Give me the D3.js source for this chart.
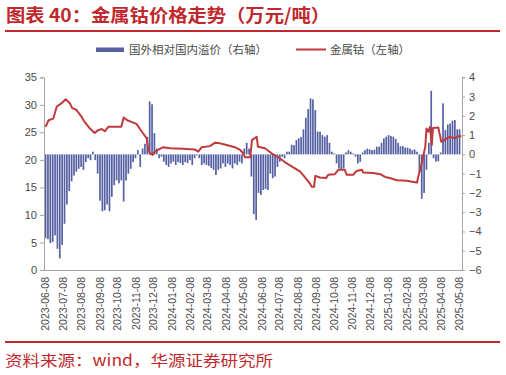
<!DOCTYPE html>
<html><head><meta charset="utf-8">
<script src="https://cdn.jsdelivr.net/npm/d3@7"></script>
<style>body{margin:0;background:#fff;}svg{display:block;}</style>
</head><body><svg id="c" width="506" height="375"></svg>
<script>
// ---------- data ----------
const titleText = "图表 40：金属钴价格走势（万元/吨）";
const sourceText = "资料来源：wind，华源证券研究所";
const seriesNames = ["国外相对国内溢价（右轴）", "金属钴（左轴）"];

const xTickLabels = ["2023-06-08","2023-07-08","2023-08-08","2023-09-08","2023-10-08","2023-11-08",
  "2023-12-08","2024-01-08","2024-02-08","2024-03-08","2024-04-08","2024-05-08","2024-06-08",
  "2024-07-08","2024-08-08","2024-09-08","2024-10-08","2024-11-08","2024-12-08","2025-01-08",
  "2025-02-08","2025-03-08","2025-04-08","2025-05-08"];
const leftTicks = [0,5,10,15,20,25,30,35];
const rightTicks = [-6,-5,-4,-3,-2,-1,0,1,2,3,4];

// premium (right axis), one value every 4 days starting 2023-06-09
const premiumStart = "2023-06-09";
const premiumStepDays = 4;
const premiumValues = [
 -4.35,-4.4,-4.6,-4.55,-4.2,-4.9,-5.4,-4.7,-3.6,-2.6,
 -1.9,-1.4,-1.1,-0.9,-0.75,-0.65,-0.8,-0.4,-0.2,-0.3,
 0.14,-0.3,-1.0,-2.4,-2.95,-2.9,-2.6,-2.95,-2.2,-1.6,
 -1.35,-1.5,-1.35,-2.45,-1.35,-1.0,-0.75,-0.4,-0.2,0.22,
 -0.65,0.3,0.55,0.9,2.75,2.6,1.1,0.3,-0.2,-0.12,
 -0.38,-0.55,-0.65,-0.47,-0.38,-0.55,-0.4,-0.45,-0.55,-0.4,
 -0.45,-0.3,-0.55,-0.2,-0.05,-0.2,-0.55,-0.47,-0.55,-0.6,
 -0.7,-0.8,-1.07,-0.8,-0.73,-0.47,-0.65,-0.47,-0.55,-0.73,
 -0.47,-0.55,-0.38,-0.47,0.3,0.6,0.3,-1.15,-3.1,-3.4,
 -2.0,-2.1,-1.85,-1.8,-1.85,-1.0,-1.24,-1.15,-0.65,-0.38,
 -0.12,-0.2,0.14,0.14,0.5,0.48,0.74,0.83,0.9,1.3,
 1.9,2.35,2.9,2.85,2.3,1.18,1.18,1.0,0.92,1.0,
 0.6,0.14,0.05,-0.47,-0.73,-0.8,-0.73,0.1,0.22,0.14,
 0.05,-0.12,-0.47,-0.38,0.1,0.22,0.3,0.26,0.22,0.25,
 0.4,0.4,0.6,0.83,0.92,1.0,0.95,0.92,0.8,0.6,
 0.42,0.43,0.35,0.35,0.3,0.22,0.26,0.14,-0.9,-2.3,
 -2.0,-0.8,0.6,3.3,-0.2,-0.38,-0.35,0.1,2.65,1.26,
 1.55,1.6,1.75,1.78,1.3,1.3
];

// cobalt price (left axis)
const cobaltDates = [
 "2023-06-09","2023-06-14","2023-06-22","2023-06-28","2023-07-06","2023-07-13","2023-07-20","2023-07-24",
 "2023-07-31","2023-08-09","2023-08-14","2023-08-23","2023-08-31","2023-09-06","2023-09-12","2023-09-17",
 "2023-09-23","2023-10-01","2023-10-15","2023-10-19","2023-10-25","2023-11-01","2023-11-10","2023-11-15",
 "2023-11-21","2023-11-27","2023-11-29","2023-12-02","2023-12-07","2023-12-11","2023-12-16","2023-12-25",
 "2024-01-05","2024-01-27","2024-02-16","2024-02-22","2024-02-28","2024-03-13","2024-03-21","2024-03-30",
 "2024-04-10","2024-04-24","2024-05-03","2024-05-08","2024-05-11","2024-05-20","2024-05-23","2024-05-31",
 "2024-06-02","2024-06-14","2024-06-25","2024-07-09","2024-07-20","2024-07-31","2024-08-12","2024-08-20",
 "2024-08-29","2024-09-01","2024-09-05","2024-09-07","2024-09-15","2024-09-25","2024-09-29","2024-10-10",
 "2024-10-16","2024-10-27","2024-10-30","2024-11-10","2024-11-16","2024-11-25","2024-11-27","2024-12-14",
 "2024-12-26","2025-01-03","2025-01-11","2025-01-23","2025-02-09","2025-02-20","2025-02-26","2025-02-28",
 "2025-03-06","2025-03-12","2025-03-14","2025-03-17","2025-03-20","2025-03-23","2025-03-25","2025-04-03",
 "2025-04-08","2025-04-12","2025-04-17","2025-04-22","2025-05-01","2025-05-07","2025-05-12"
];
const cobaltValues = [
 26.0,27.2,27.5,29.7,30.3,31.0,30.3,29.4,
 29.1,27.8,26.9,25.7,24.9,25.4,25.6,25.2,
 26.0,26.0,26.0,27.7,27.2,26.9,26.5,25.7,
 24.8,23.9,22.4,21.2,20.9,21.5,21.8,22.3,
 22.1,22.0,21.9,21.5,22.3,22.5,23.1,23.0,
 22.7,22.3,21.8,21.2,20.5,20.5,23.6,24.2,
 22.4,22.1,21.2,20.3,19.4,18.7,17.9,16.9,
 15.7,15.1,15.1,17.1,16.8,16.7,17.3,17.4,
 18.2,18.2,17.3,17.3,18.0,18.2,17.7,17.6,
 17.4,16.9,16.7,16.3,16.2,16.0,15.9,16.9,
 19.4,22.4,25.7,25.1,26.0,22.7,25.8,25.9,
 23.3,23.5,23.9,24.2,23.9,24.3,24.3
];

// ---------- drawing ----------
const parse = d3.utcParse("%Y-%m-%d");
const svg = d3.select("#c");
const red = "#C0282D", barColor = "#5561A3", lineColor = "#C0393B", axisColor = "#A6A6A6", txt = "#4a4a4a";
const cjk = "'Noto Sans CJK SC','Noto Sans',sans-serif";
const latin = "'Liberation Sans',Arial,sans-serif";

const x = d3.scaleUtc().domain([parse("2023-06-08"), parse("2025-05-08")]).range([45, 459]);
const yL = d3.scaleLinear().domain([0, 35]).range([270, 77.3]);
const yR = d3.scaleLinear().domain([-6, 4]).range([270, 77.3]);

// title
svg.append("text").attr("x", 6).attr("y", 22).attr("fill", red)
  .attr("font-family", cjk).attr("font-size", 18).attr("font-weight", "bold")
  .attr("textLength", 324).attr("lengthAdjust", "spacingAndGlyphs").text(titleText);
svg.append("rect").attr("x", 5).attr("y", 30).attr("width", 495).attr("height", 2).attr("fill", red);

// legend
svg.append("rect").attr("x", 96).attr("y", 47.5).attr("width", 28).attr("height", 4.5).attr("fill", barColor);
svg.append("text").attr("x", 129).attr("y", 54).attr("fill", txt).attr("font-family", cjk)
  .attr("font-size", 11.5).attr("textLength", 138).attr("lengthAdjust", "spacingAndGlyphs").text(seriesNames[0]);
svg.append("line").attr("x1", 296).attr("x2", 326).attr("y1", 49.5).attr("y2", 49.5)
  .attr("stroke", lineColor).attr("stroke-width", 2);
svg.append("text").attr("x", 330).attr("y", 54).attr("fill", txt).attr("font-family", cjk)
  .attr("font-size", 11.5).attr("textLength", 80).attr("lengthAdjust", "spacingAndGlyphs").text(seriesNames[1]);

// bars
const premiumData = premiumValues.map((v, i) => ({
  date: d3.utcDay.offset(parse(premiumStart), i * premiumStepDays), value: v }));
const bw = 1.7;
svg.append("g").selectAll("rect").data(premiumData).join("rect")
  .attr("x", d => x(d.date) - bw / 2)
  .attr("y", d => Math.min(yR(d.value), yR(0)))
  .attr("width", bw)
  .attr("height", d => Math.abs(yR(d.value) - yR(0)))
  .attr("fill", barColor);

// line
const cobaltData = cobaltDates.map((d, i) => ({ date: parse(d), value: cobaltValues[i] }));
svg.append("path").datum(cobaltData)
  .attr("d", d3.line().x(d => x(d.date)).y(d => yL(d.value)))
  .attr("fill", "none").attr("stroke", lineColor).attr("stroke-width", 2).attr("stroke-linejoin", "round");

// axes
const gL = svg.append("g").attr("transform", "translate(44,0)")
  .call(d3.axisLeft(yL).tickValues(leftTicks).tickSize(4).tickPadding(3));
const gR = svg.append("g").attr("transform", "translate(462,0)")
  .call(d3.axisRight(yR).tickValues(rightTicks).tickSize(3).tickPadding(4));
const xTickDates = xTickLabels.map(parse);
const gB = svg.append("g").attr("transform", "translate(0,270)")
  .call(d3.axisBottom(x).tickValues(xTickDates).tickSize(0).tickFormat(d3.utcFormat("%Y-%m-%d")));
gB.select(".domain").attr("d", "M44,0.5H462");
gB.selectAll(".tick text").attr("transform", "rotate(-90)").attr("text-anchor", "end")
  .attr("x", -7).attr("y", 0).attr("dy", "0.35em");
[gL, gR, gB].forEach(g => {
  g.selectAll(".domain").attr("stroke", axisColor);
  g.selectAll(".tick line").attr("stroke", axisColor);
  g.selectAll(".tick text").attr("fill", txt).attr("font-family", latin).attr("font-size", 11);
});
gB.selectAll(".tick text").attr("font-size", 10.5);

// bottom rule & source
svg.append("rect").attr("x", 5).attr("y", 341).attr("width", 495).attr("height", 2).attr("fill", red);
svg.append("text").attr("x", 5).attr("y", 366).attr("fill", red).attr("font-family", cjk)
  .attr("font-size", 15).attr("textLength", 268).attr("lengthAdjust", "spacingAndGlyphs").text(sourceText);
</script></body></html>
